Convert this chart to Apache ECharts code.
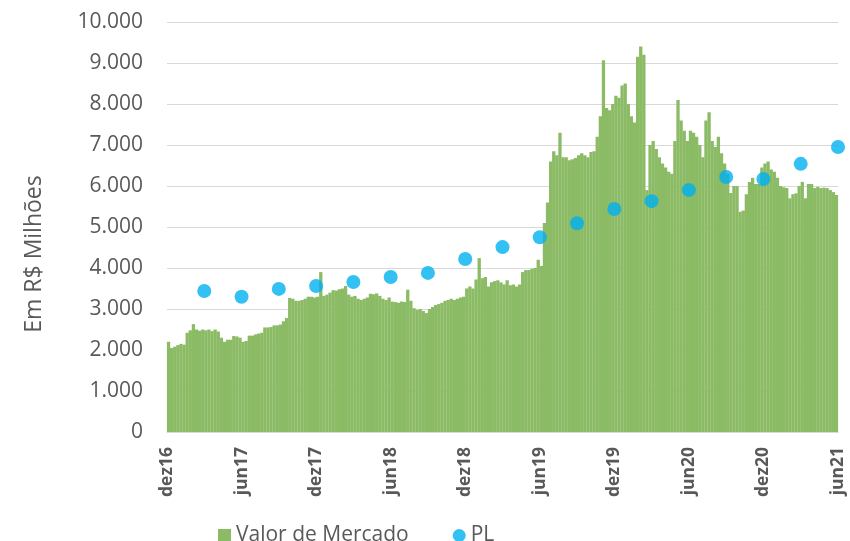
<!DOCTYPE html>
<html lang="pt">
  <head>
    <meta charset="UTF-8" />
    <title>Valor de Mercado x PL</title>
    <script src="https://cdn.jsdelivr.net/npm/echarts@6/dist/echarts.min.js"></script>
    <style>
      body {
        margin: 0;
        background: #ffffff;
      }
      #chart {
        width: 850px;
        height: 541px;
      }
    </style>
  </head>
  <body>
    <div id="chart"></div>
    <script>
      // tick labels, one every 6 months (24 weeks)
      var tickLabels = ["dez16", "jun17", "dez17", "jun18", "dez18", "jun19", "dez19", "jun20", "dez20", "jun21"];

      // market value, weekly, R$ millions (4 values per month, dez16 .. mai21)
      var valorMercado = [
        2200, 2050, 2080, 2120, 2150, 2130, 2420, 2480, 2630, 2500, 2470, 2500,
        2480, 2500, 2460, 2500, 2450, 2300, 2200, 2250, 2250, 2340, 2330, 2300,
        2200, 2220, 2350, 2350, 2380, 2400, 2420, 2550, 2550, 2560, 2600, 2600,
        2620, 2700, 2780, 3270, 3250, 3200, 3200, 3220, 3250, 3300, 3300, 3280,
        3300, 3900, 3320, 3350, 3400, 3460, 3450, 3480, 3500, 3560, 3350, 3300,
        3320, 3250, 3220, 3250, 3280, 3370, 3360, 3380, 3320, 3250, 3220, 3280,
        3180, 3170, 3150, 3180, 3170, 3470, 3200, 3020, 2980, 3000, 2950, 2900,
        3000, 3050, 3100, 3120, 3150, 3200, 3220, 3250, 3220, 3250, 3280, 3300,
        3500, 3550, 3500, 3720, 4240, 3750, 3780, 3550, 3650, 3680, 3700, 3650,
        3600, 3700, 3580, 3600, 3550, 3600, 3900, 3950, 3950, 3980, 4000, 4200,
        4050, 5100, 5600, 6600, 6850, 6750, 7300, 6700, 6700, 6630, 6650, 6680,
        6750, 6800, 6750, 6700, 6830, 6850, 7200, 7700, 9070, 7900, 7850, 8000,
        8200, 8150, 8450, 8500, 8000, 7700, 7550, 9150, 9400, 9200, 5900, 7000,
        7100, 6900, 6700, 6550, 6450, 6350, 6300, 7100, 8100, 7600, 7350, 7100,
        7350, 7300, 7200, 7000, 6700, 7600, 7800, 7100, 6950, 7200, 6800, 6550,
        6300, 5830, 6000, 6000, 5370, 5400, 5800, 6100, 6200, 6050, 6050, 6450,
        6550, 6600, 6400, 6350, 6200, 6000, 5970, 5950, 5700, 5800, 5820, 6000,
        6100, 5700, 6050, 6050, 5950, 5980, 5950, 5960, 5950, 5900, 5850, 5780
      ];

      // PL (patrimonio liquido), quarterly: mar17 .. jun21
      var plWeeks = [12, 24, 36, 48, 60, 72, 84, 96, 108, 120, 132, 144, 156, 168, 180, 192, 204, 216];
      var plValues = [3440, 3300, 3490, 3560, 3660, 3780, 3880, 4220, 4510, 4750, 5090, 5440, 5630, 5900, 6220, 6170, 6540, 6950];

      var barData = valorMercado.map(function (v, i) {
        return [i + 0.5, v];
      });
      var plData = plValues.map(function (v, i) {
        return [plWeeks[i], v];
      });

      function fmtThousands(v) {
        return String(v).replace(/\B(?=(\d{3})+(?!\d))/g, ".");
      }

      var chart = echarts.init(document.getElementById("chart"));

      var option = {
        animation: false,
        textStyle: { fontFamily: "Open Sans" },
        grid: { left: 167, right: 12, top: 22, bottom: 109, containLabel: false },
        // y axis title, placed like the original (a bit below the middle)
        graphic: [
          {
            type: "text",
            x: 34,
            y: 254,
            rotation: Math.PI / 2,
            style: {
              text: "Em R$ Milhões",
              fontSize: 23,
              fontFamily: "Open Sans",
              fill: "#595959",
              align: "center",
              verticalAlign: "middle"
            }
          }
        ],
        legend: {
          top: 520,
          left: 213,
          itemGap: 44,
          itemWidth: 13,
          itemHeight: 13,
          textStyle: { fontSize: 21, color: "#595959", fontFamily: "Open Sans" },
          data: [
            { name: "Valor de Mercado", icon: "rect" },
            { name: "PL", icon: "circle" }
          ]
        },
        xAxis: {
          type: "value",
          min: 0,
          max: 216,
          interval: 24,
          splitLine: { show: false },
          axisTick: { show: false },
          axisLine: { show: true, lineStyle: { color: "#d9d9d9" } },
          axisLabel: {
            rotate: 90,
            margin: 15,
            fontSize: 17.5,
            fontWeight: "bold",
            color: "#595959",
            formatter: function (v) {
              return tickLabels[Math.round(v / 24)];
            }
          }
        },
        yAxis: {
          type: "value",
          min: 0,
          max: 10000,
          interval: 1000,
          axisLine: { show: false },
          axisTick: { show: false },
          axisLabel: {
            fontSize: 21,
            color: "#595959",
            margin: 24,
            formatter: fmtThousands
          },
          splitLine: { lineStyle: { color: "#d9d9d9", width: 1 } }
        },
        series: [
          {
            name: "Valor de Mercado",
            type: "bar",
            data: barData,
            barWidth: 3.3,
            itemStyle: { color: "#8bbb65" }
          },
          {
            name: "PL",
            type: "scatter",
            data: plData,
            symbolSize: 14,
            clip: false,
            itemStyle: { color: "#00b0f0" },
            z: 5
          }
        ]
      };

      chart.setOption(option);
    </script>
  </body>
</html>
